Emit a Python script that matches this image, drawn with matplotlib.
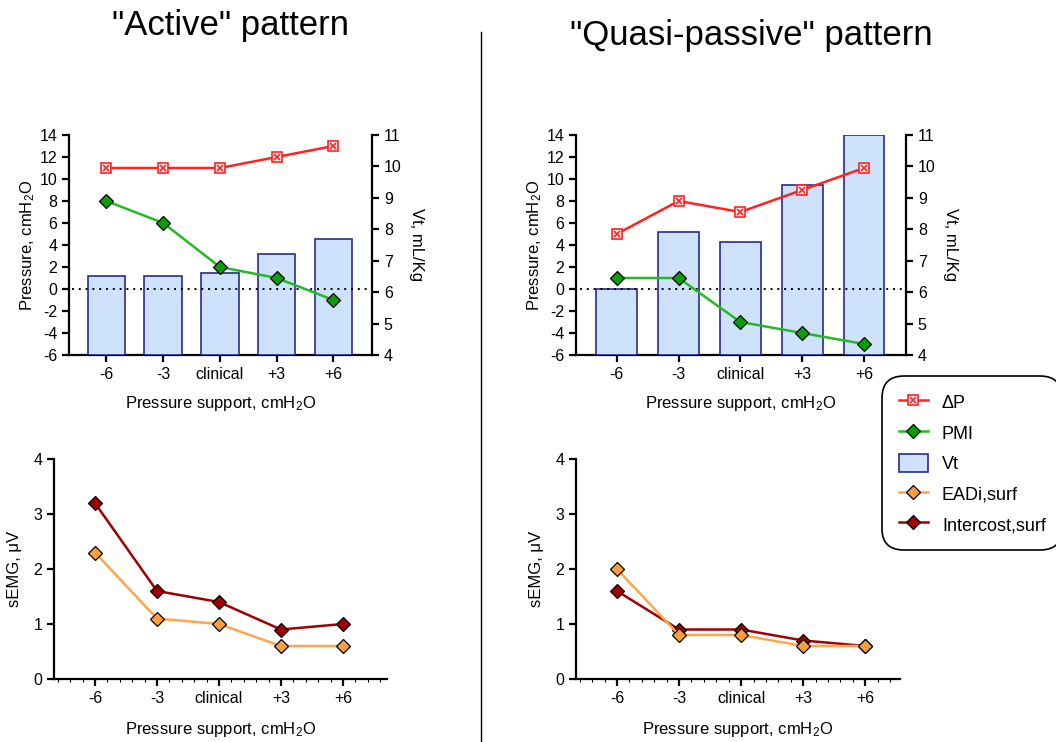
import matplotlib.pyplot as plt
from matplotlib.lines import Line2D
from matplotlib.patches import Patch
from matplotlib.legend_handler import HandlerTuple
from matplotlib.ticker import MultipleLocator

plt.rcParams["font.family"] = ["Liberation Sans", "DejaVu Sans"]
plt.rcParams["mathtext.default"] = "regular"
plt.rcParams["axes.unicode_minus"] = False

levels = ["-6", "-3", "clinical", "+3", "+6"]

# "Active" pattern
act_dp = [11, 11, 11, 12, 13]
act_pmi = [8, 6, 2, 1, -1]
act_vt = [6.5, 6.5, 6.6, 7.2, 7.7]
act_eadi = [2.3, 1.1, 1.0, 0.6, 0.6]
act_inter = [3.2, 1.6, 1.4, 0.9, 1.0]

# "Quasi-passive" pattern
qp_dp = [5, 8, 7, 9, 11]
qp_pmi = [1, 1, -3, -4, -5]
qp_vt = [6.1, 7.9, 7.6, 9.4, 11.0]
qp_eadi = [2.0, 0.8, 0.8, 0.6, 0.6]
qp_inter = [1.6, 0.9, 0.9, 0.7, 0.6]

RED = "#ff2222"
GREEN = "#22bb22"
GREEN_FILL = "#0a9e0a"
BAR_FILL = "#cfe2fb"
BAR_EDGE = "#2a2a90"
ORANGE = "#ffa64a"
ORANGE_FILL = "#f9a03c"
DARKRED = "#a00000"
MS_D = 7
MS_S = 7.5

W, H = 1056, 742
fig = plt.figure(figsize=(W / 100, H / 100), dpi=100)


def px_axes(left, right, top, bottom):
    return fig.add_axes([left / W, 1 - bottom / H, (right - left) / W, (bottom - top) / H])


def style_axis(ax):
    for s in ("top", "right"):
        ax.spines[s].set_visible(False)
    for s in ("left", "bottom"):
        ax.spines[s].set_linewidth(1.6)
    ax.tick_params(width=1.6, length=5, labelsize=11.5)


def pressure_panel(ax, dp, pmi, vt):
    x = range(len(levels))
    style_axis(ax)
    ax.set_xlim(-0.66, 4.68)
    ax.set_ylim(-6, 14)
    ax.set_yticks(range(-6, 15, 2))
    ax.set_xticks(list(x))
    ax.set_xticklabels(levels)
    ax.set_ylabel("Pressure, cmH$_2$O", fontsize=12, labelpad=2)
    ax.set_xlabel("Pressure support, cmH$_2$O", fontsize=12, labelpad=9)

    ax2 = ax.twinx()
    ax2.set_ylim(4, 11)
    ax2.set_yticks(range(4, 12))
    for s in ("top", "left", "bottom"):
        ax2.spines[s].set_visible(False)
    ax2.spines["right"].set_linewidth(1.6)
    ax2.tick_params(width=1.6, length=5, labelsize=11.5)
    ax2.set_ylabel("Vt, mL/Kg", fontsize=12, rotation=-90, labelpad=16)
    ax2.bar(x, [v - 4 for v in vt], bottom=4, width=0.66, color=BAR_FILL,
            edgecolor=BAR_EDGE, linewidth=1.2, zorder=1)

    # pressure series drawn on the Vt axis so they sit above the bars
    def to_vt(p):
        return [4 + (v + 6) * 7 / 20 for v in p]

    ax2.plot([-0.6, 4.62], to_vt([0, 0]), color="black", linestyle=(0, (1, 2.5)),
             linewidth=1.4, zorder=2)
    ax2.plot(x, to_vt(dp), color=RED, linewidth=1.8, zorder=4)
    ax2.plot(x, to_vt(dp), linestyle="none", marker="s", markersize=MS_S,
             markerfacecolor="#fff0f0", markeredgecolor=RED, markeredgewidth=1.2, zorder=5)
    ax2.plot(x, to_vt(dp), linestyle="none", marker="x", markersize=MS_S * 0.62,
             markeredgecolor=RED, markeredgewidth=1.2, zorder=6)
    ax2.plot(x, to_vt(pmi), color=GREEN, linewidth=1.8, marker="D", markersize=MS_D,
             markerfacecolor=GREEN_FILL, markeredgecolor="black", markeredgewidth=0.9, zorder=5)
    ax2.set_xlim(-0.66, 4.68)


def semg_panel(ax, eadi, inter, xmax):
    x = range(len(levels))
    style_axis(ax)
    ax.set_xlim(-0.66, xmax)
    ax.set_ylim(0, 4)
    ax.set_yticks(range(0, 5))
    ax.set_xticks(list(x))
    ax.set_xticklabels(levels)
    ax.xaxis.set_minor_locator(MultipleLocator(0.2))
    ax.tick_params(axis="x", which="minor", length=2, width=0.8)
    ax.set_ylabel("sEMG, μV", fontsize=12, labelpad=8)
    ax.set_xlabel("Pressure support, cmH$_2$O", fontsize=12, labelpad=10)
    ax.plot(x, inter, color=DARKRED, linewidth=1.8, marker="D", markersize=MS_D,
            markerfacecolor=DARKRED, markeredgecolor="black", markeredgewidth=0.9, zorder=3)
    ax.plot(x, eadi, color=ORANGE, linewidth=1.8, marker="D", markersize=MS_D,
            markerfacecolor=ORANGE_FILL, markeredgecolor="black", markeredgewidth=0.9, zorder=4)


ax_a = px_axes(69, 372, 135, 355)
pressure_panel(ax_a, act_dp, act_pmi, act_vt)
ax_q = px_axes(576, 906, 135, 355)
pressure_panel(ax_q, qp_dp, qp_pmi, qp_vt)

ax_ae = px_axes(54, 387, 459, 679)
semg_panel(ax_ae, act_eadi, act_inter, 4.71)
ax_qe = px_axes(576, 900, 459, 679)
semg_panel(ax_qe, qp_eadi, qp_inter, 4.56)

fig.text(231 / W, 1 - 26 / H, '"Active" pattern', fontsize=25, ha="center", va="center")
fig.text(751 / W, 1 - 35 / H, '"Quasi-passive" pattern', fontsize=25, ha="center", va="center")
fig.add_artist(Line2D([481 / W, 481 / W], [0, 1 - 32 / H], color="black", linewidth=1.0))

h_dp = (Line2D([], [], color=RED, linewidth=1.8, marker="s", markersize=MS_S,
               markerfacecolor="#fff0f0", markeredgecolor=RED, markeredgewidth=1.2),
        Line2D([], [], linestyle="none", marker="x", markersize=MS_S * 0.62,
               markeredgecolor=RED, markeredgewidth=1.2))
h_pmi = Line2D([], [], color=GREEN, linewidth=1.8, marker="D", markersize=MS_D,
               markerfacecolor=GREEN_FILL, markeredgecolor="black", markeredgewidth=0.9)
h_vt = Patch(facecolor=BAR_FILL, edgecolor=BAR_EDGE, linewidth=1.2)
h_eadi = Line2D([], [], color=ORANGE, linewidth=1.8, marker="D", markersize=MS_D,
                markerfacecolor=ORANGE_FILL, markeredgecolor="black", markeredgewidth=0.9)
h_int = Line2D([], [], color=DARKRED, linewidth=1.8, marker="D", markersize=MS_D,
               markerfacecolor=DARKRED, markeredgecolor="black", markeredgewidth=0.9)

leg = fig.legend([h_dp, h_pmi, h_vt, h_eadi, h_int],
                 ["ΔP", "PMI", "Vt", "EADi,surf", "Intercost,surf"],
                 handler_map={tuple: HandlerTuple(ndivide=1)},
                 loc="upper left", bbox_to_anchor=(886 / W, 1 - 380 / H),
                 fontsize=13, frameon=True, fancybox=True, handlelength=1.6,
                 handleheight=1.2, labelspacing=0.62, borderpad=0.7, handletextpad=0.8,
                 borderaxespad=0)
frame = leg.get_frame()
frame.set_edgecolor("black")
frame.set_linewidth(1.2)
frame.set_alpha(1)
frame.set_boxstyle("round,pad=0.2,rounding_size=1.2")

fig.savefig("out.png", dpi=100)
